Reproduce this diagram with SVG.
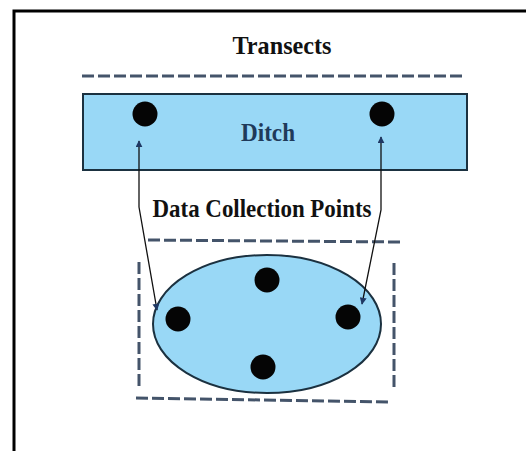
<svg xmlns="http://www.w3.org/2000/svg" width="526" height="451" viewBox="0 0 526 451">
  <style>
    .lbl { font-family: "Liberation Serif", "Times New Roman", serif; font-weight: bold; font-size: 25px; fill: #111; text-anchor: middle; }
    .dash { fill: none; stroke: #44546a; stroke-width: 3; stroke-dasharray: 12 4; }
    .dot { fill: #050505; }
    .water { fill: #99d8f6; stroke: #1b3140; stroke-width: 2; }
    .conn { fill: none; stroke: #111; stroke-width: 1.3; }
  </style>
  <defs>
    <marker id="ah" viewBox="0 0 10 10" refX="9" refY="5" markerWidth="7" markerHeight="7" orient="auto-start-reverse" markerUnits="userSpaceOnUse">
      <path d="M0,0 L10,5 L0,10 z" fill="#1f3864"/>
    </marker>
  </defs>
  <rect width="526" height="451" fill="#fff"/>
  <g id="frame">
    <path d="M14,451 V11 H526" fill="none" stroke="#000" stroke-width="3"/>
  </g>
  <g id="transects">
    <text class="lbl" x="282" y="54" textLength="99" lengthAdjust="spacingAndGlyphs">Transects</text>
    <line class="dash" x1="82" y1="76" x2="466" y2="76"/>
  </g>
  <g id="ditch">
    <rect class="water" x="83" y="94" width="384" height="76"/>
    <circle class="dot" cx="145" cy="114" r="12.5"/>
    <circle class="dot" cx="382" cy="114" r="12.5"/>
    <text class="lbl" x="268" y="141" style="fill:#1f3a5a" textLength="54" lengthAdjust="spacingAndGlyphs">Ditch</text>
  </g>
  <g id="pond">
    <line class="dash" x1="148" y1="240" x2="402" y2="242" stroke-dasharray="11 4"/>
    <line class="dash" x1="139" y1="262" x2="139" y2="388" stroke-dasharray="10 5"/>
    <line class="dash" x1="394" y1="263" x2="394" y2="390" stroke-dasharray="10 5"/>
    <line class="dash" x1="136" y1="398" x2="390" y2="402" stroke-dasharray="11 4"/>
    <ellipse class="water" cx="267" cy="324" rx="114" ry="69"/>
    <circle class="dot" cx="267" cy="280" r="12.5"/>
    <circle class="dot" cx="178" cy="319" r="12.5"/>
    <circle class="dot" cx="348" cy="317" r="12.5"/>
    <circle class="dot" cx="263" cy="367" r="12.5"/>
  </g>
  <g id="label-points">
    <text class="lbl" x="262" y="217" textLength="219" lengthAdjust="spacingAndGlyphs">Data Collection Points</text>
  </g>
  <g id="connectors">
    <polyline class="conn" points="139,141 139,207 157,310" marker-start="url(#ah)" marker-end="url(#ah)"/>
    <polyline class="conn" points="381,137 381,210 362,304" marker-start="url(#ah)" marker-end="url(#ah)"/>
  </g>
</svg>
